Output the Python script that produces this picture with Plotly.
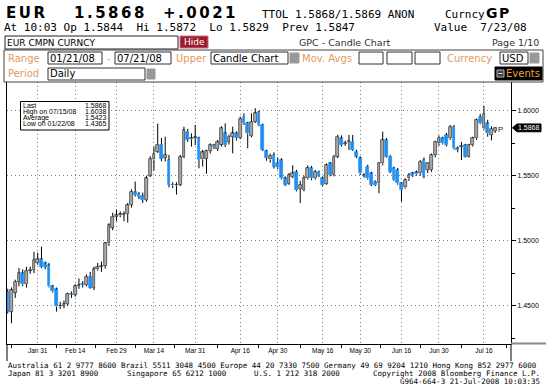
import plotly.graph_objects as go

# ---------------- data ----------------
opens = [1.4608,1.4455,1.4600,1.4685,1.4750,1.4665,1.4770,1.4776,1.4828,1.4858,
         1.4826,1.4810,1.4648,1.4625,1.4494,1.4500,1.4513,1.4592,1.4585,1.4650,
         1.4668,1.4660,1.4723,1.4640,1.4780,1.4800,1.4806,1.4980,1.5100,1.5185,
         1.5195,1.5200,1.5205,1.5275,1.5377,1.5360,1.5345,1.5313,1.5500,1.5625,
         1.5685,1.5740,1.5640,1.5620,1.5432,1.5425,1.5430,1.5645,1.5840,1.5780,
         1.5790,1.5790,1.5625,1.5630,1.5690,1.5735,1.5705,1.5740,1.5826,1.5762,
         1.5800,1.5826,1.5790,1.5955,1.5905,1.5805,1.5916,1.5990,1.5890,1.5690,
         1.5625,1.5660,1.5600,1.5620,1.5480,1.5440,1.5490,1.5530,1.5400,1.5390,
         1.5480,1.5560,1.5480,1.5530,1.5480,1.5440,1.5595,1.5506,1.5647,1.5788,
         1.5745,1.5760,1.5762,1.5685,1.5634,1.5500,1.5570,1.5518,1.5454,1.5442,
         1.5595,1.5775,1.5647,1.5557,1.5544,1.5442,1.5410,1.5480,1.5518,1.5525,
         1.5518,1.5621,1.5544,1.5544,1.5659,1.5749,1.5788,1.5813,1.5788,1.5877,
         1.5711,1.5720,1.5736,1.5647,1.5736,1.5788,1.5954,1.5865,1.5903,1.5815,
         1.5844]
highs = [1.4630,1.4640,1.4700,1.4790,1.4780,1.4800,1.4800,1.4915,1.4908,1.4955,
         1.4840,1.4830,1.4660,1.4640,1.4530,1.4540,1.4600,1.4610,1.4665,1.4710,
         1.4690,1.4740,1.4760,1.4800,1.4830,1.4840,1.4990,1.5135,1.5215,1.5240,
         1.5225,1.5225,1.5290,1.5395,1.5455,1.5375,1.5370,1.5500,1.5650,1.5723,
         1.5900,1.5790,1.5800,1.5660,1.5450,1.5450,1.5660,1.5877,1.5860,1.5826,
         1.5890,1.5800,1.5700,1.5700,1.5750,1.5745,1.5775,1.5880,1.5903,1.5815,
         1.5877,1.5840,1.5955,1.5980,1.5915,1.5980,1.6019,1.6000,1.5900,1.5700,
         1.5670,1.5680,1.5640,1.5635,1.5495,1.5520,1.5580,1.5545,1.5460,1.5500,
         1.5580,1.5575,1.5545,1.5540,1.5495,1.5595,1.5605,1.5660,1.5815,1.5810,
         1.5770,1.5813,1.5813,1.5700,1.5650,1.5520,1.5585,1.5530,1.5465,1.5600,
         1.5839,1.5790,1.5660,1.5570,1.5560,1.5450,1.5480,1.5520,1.5530,1.5540,
         1.5620,1.5640,1.5600,1.5670,1.5770,1.5810,1.5800,1.5830,1.5890,1.5890,
         1.5725,1.5760,1.5745,1.5745,1.5800,1.5940,1.5975,1.6038,1.5930,1.5880,
         1.5872]
lows = [1.4440,1.4365,1.4560,1.4650,1.4650,1.4640,1.4745,1.4750,1.4815,1.4790,
        1.4780,1.4640,1.4600,1.4455,1.4475,1.4480,1.4500,1.4560,1.4570,1.4630,
        1.4640,1.4650,1.4630,1.4620,1.4770,1.4760,1.4785,1.4960,1.5080,1.5150,
        1.5180,1.5150,1.5140,1.5255,1.5340,1.5320,1.5290,1.5300,1.5490,1.5540,
        1.5675,1.5610,1.5610,1.5410,1.5405,1.5355,1.5420,1.5635,1.5760,1.5724,
        1.5736,1.5557,1.5570,1.5515,1.5670,1.5705,1.5690,1.5725,1.5720,1.5740,
        1.5672,1.5770,1.5780,1.5890,1.5711,1.5795,1.5905,1.5880,1.5690,1.5615,
        1.5600,1.5555,1.5550,1.5470,1.5420,1.5430,1.5480,1.5380,1.5290,1.5380,
        1.5470,1.5465,1.5470,1.5490,1.5420,1.5430,1.5495,1.5495,1.5635,1.5725,
        1.5730,1.5698,1.5690,1.5635,1.5505,1.5485,1.5470,1.5420,1.5420,1.5365,
        1.5580,1.5640,1.5520,1.5460,1.5430,1.5300,1.5400,1.5460,1.5490,1.5500,
        1.5500,1.5480,1.5520,1.5530,1.5640,1.5730,1.5740,1.5725,1.5775,1.5700,
        1.5680,1.5620,1.5640,1.5640,1.5725,1.5775,1.5895,1.5855,1.5800,1.5772,
        1.5829]
closes = [1.4455,1.4620,1.4685,1.4750,1.4665,1.4770,1.4776,1.4855,1.4858,1.4800,
          1.4800,1.4648,1.4610,1.4494,1.4500,1.4512,1.4590,1.4585,1.4650,1.4656,
          1.4660,1.4723,1.4640,1.4780,1.4800,1.4806,1.4980,1.5120,1.5185,1.5195,
          1.5205,1.5206,1.5275,1.5377,1.5352,1.5340,1.5313,1.5480,1.5630,1.5670,
          1.5740,1.5630,1.5660,1.5430,1.5425,1.5432,1.5645,1.5850,1.5775,1.5790,
          1.5796,1.5620,1.5680,1.5690,1.5735,1.5720,1.5760,1.5865,1.5736,1.5800,
          1.5826,1.5788,1.5940,1.5905,1.5826,1.5915,1.5980,1.5890,1.5700,1.5635,
          1.5655,1.5570,1.5565,1.5480,1.5430,1.5505,1.5520,1.5390,1.5430,1.5480,
          1.5560,1.5480,1.5530,1.5500,1.5430,1.5583,1.5506,1.5647,1.5801,1.5736,
          1.5752,1.5765,1.5698,1.5647,1.5518,1.5508,1.5480,1.5429,1.5429,1.5595,
          1.5775,1.5647,1.5531,1.5467,1.5442,1.5390,1.5467,1.5506,1.5506,1.5510,
          1.5608,1.5493,1.5595,1.5659,1.5762,1.5793,1.5749,1.5736,1.5877,1.5711,
          1.5698,1.5726,1.5647,1.5736,1.5788,1.5929,1.5903,1.5977,1.5826,1.5862,
          1.5868]
day_index = list(range(len(closes)))

tick_index = [8, 18, 29, 39, 50, 62, 72, 84, 94, 105, 115, 127]
tick_labels = ["Jan 31", "Feb 14", "Feb 29", "Mar 14", "Mar 31", "Apr 16",
               "Apr 30", "May 16", "May 30", "Jun 16", "Jun 30", "Jul 16"]
price_ticks = [1.45, 1.50, 1.55, 1.60]
price_minor = [1.425, 1.475, 1.525, 1.575]

last_price = 1.5868
stat_labels = ["Last", "High on 07/15/08", "Average", "Low on 01/22/08"]
stat_values = ["1.5868", "1.6038", "1.5423", "1.4365"]

# ---------------- geometry helpers ----------------
W, H = 546, 392
ML, MR, MT, MB = 7, 35, 82, 48
PW, PH = W - ML - MR, H - MT - MB


def X(px):
    return (px - ML) / PW


def Y(py):
    return (H - MB - py) / PH


BLUE = "#1e8ef2"
GRAY = "#a8a8a8"
ORANGE = "#e3995a"
MONO = "DejaVu Sans Mono"
SANS = "DejaVu Sans"
ARIAL = "Liberation Sans"

# ---------------- traces ----------------
wx, wy = [], []
for i, o, h, l, c in zip(day_index, opens, highs, lows, closes):
    top, bot = max(o, c), min(o, c)
    wx += [i, i, None, i, i, None]
    wy += [h, top, None, bot, l, None]

bases = [min(o, c) for o, c in zip(opens, closes)]
heights = [abs(c - o) for o, c in zip(opens, closes)]
fills = [GRAY if c >= o else BLUE for o, c in zip(opens, closes)]
edges = ["#303030" if c >= o else BLUE for o, c in zip(opens, closes)]

fig = go.Figure()
fig.add_trace(go.Scatter(x=wx, y=wy, mode="lines", line=dict(color="black", width=1),
                         hoverinfo="skip", showlegend=False))
fig.add_trace(go.Bar(x=day_index, y=heights, base=bases, width=0.72,
                     marker=dict(color=fills, line=dict(color=edges, width=0.7)),
                     hoverinfo="skip", showlegend=False))

shapes = []
ann = []


def rect(x0, y0, x1, y1, fill="white", line="#303030", lw=1):
    shapes.append(dict(type="rect", xref="paper", yref="paper", x0=X(x0), x1=X(x1),
                       y0=Y(y1), y1=Y(y0), fillcolor=fill,
                       line=dict(color=line, width=lw), layer="above"))


def hline(x0, x1, y, color="black", lw=1):
    shapes.append(dict(type="line", xref="paper", yref="paper", x0=X(x0), x1=X(x1),
                       y0=Y(y), y1=Y(y), line=dict(color=color, width=lw), layer="above"))


def vline(x, y0, y1, color="black", lw=1):
    shapes.append(dict(type="line", xref="paper", yref="paper", x0=X(x), x1=X(x),
                       y0=Y(y0), y1=Y(y1), line=dict(color=color, width=lw), layer="above"))


def txt(px, py, s, size, color="black", family=SANS, anchor="left", weight="normal"):
    ann.append(dict(x=X(px), y=Y(py), xref="paper", yref="paper", text=s, showarrow=False,
                    xanchor=anchor, yanchor="middle", borderpad=0, borderwidth=0,
                    font=dict(size=size, color=color, family=family, weight=weight)))


def spaced(s, sp):
    return '<span style="letter-spacing:%spx">%s</span>' % (sp, s)


# ---------------- header ----------------
txt(26, 13, spaced("EUR", 2.5), 15, family=SANS, anchor="center", weight="bold")
txt(110, 13, spaced("1.5868", 2.5), 15, family=SANS, anchor="center", weight="bold")
txt(200, 13, spaced("+.0021", 2.5), 15, family=SANS, anchor="center", weight="bold")
txt(262, 14, "TTOL 1.5868/1.5869 ANON", 11, family=MONO)
txt(445, 14, "Curncy", 11, family=MONO)
txt(498, 13, spaced("GP", 1.5), 14, family=SANS, anchor="center", weight="bold")

txt(4, 27, "At 10:03 Op 1.5844\u00a0\u00a0Hi 1.5872\u00a0\u00a0Lo 1.5829\u00a0\u00a0Prev 1.5847",
    11, family=MONO)
txt(434, 27, "Value\u00a0\u00a07/23/08", 11, family=MONO)

# row 3
rect(5, 36, 178, 49, fill="white", line="#202020")
txt(7, 42.5, "EUR CMPN CURNCY", 9, family=SANS)
rect(180, 36, 208, 48, fill="#9e1a2c", line="#c87080")
txt(194, 42, "Hide", 9, color="white", family=SANS, anchor="center")
txt(345, 42.5, "GPC - Candle Chart", 9.5, color="#303030", family=SANS, anchor="center")
txt(539, 42.5, "Page 1/10", 9.5, color="#303030", family=SANS, anchor="right")

# controls panel
rect(4, 50, 543, 82, fill="white", line="#404040")
# row 4
txt(8, 58, "Range", 10, color=ORANGE)
rect(48, 52, 102, 64)
txt(50, 58, "01/21/08", 10)
txt(107, 58, "-", 10, color=ORANGE)
rect(115, 52, 171, 64)
txt(117, 58, "07/21/08", 10)
txt(176, 58, "Upper", 10, color=ORANGE)
rect(211, 52, 288, 64)
txt(213, 58, "Candle Chart", 10)
rect(290, 53, 299, 63, fill="#999999", line="#999999")
txt(302, 58, "Mov. Avgs", 10, color=ORANGE)
rect(359, 52, 383, 64)
rect(387, 52, 412, 64)
rect(415, 52, 440, 64)
txt(447, 58, "Currency", 10, color=ORANGE)
rect(500, 52, 528, 64)
txt(502, 58, "USD", 10)
rect(530, 53, 539, 63, fill="#999999", line="#999999")
# row 5
txt(8, 74, "Period", 10, color=ORANGE)
rect(48, 68, 145, 80)
txt(50, 74, "Daily", 10)
rect(147, 69, 155, 79, fill="#999999", line="#999999")
rect(495, 67, 542, 80, fill="black", line="black")
rect(497, 70, 504, 77, fill="#404040", line="#bbbbbb")
hline(498.5, 502.5, 73.5, color="#dddddd", lw=1)
txt(506, 73.5, "Events", 10, color="#f0a030")

# ---------------- chart decorations ----------------
# statistics box
rect(20.5, 101.5, 109, 130, fill="white", line="black")
for k, (lab, val) in enumerate(zip(stat_labels, stat_values)):
    yy = 105.5 + k * 6.0
    txt(22.5, yy, lab, 7, family=ARIAL)
    txt(106.5, yy, val, 7, family=ARIAL, anchor="right")

# frame extensions below the date axis and the right panel base line
vline(ML, 344, 361)
vline(ML + PW, 344, 361)
hline(ML + PW, W, 343.5, color="#8a8a8a", lw=2)

# last price tag
tag_h = 0.0030
shapes.append(dict(type="path", xref="paper", yref="y",
                   path="M %f,%f L %f,%f L %f,%f L %f,%f L %f,%f Z" % (
                       X(512.5), last_price,
                       X(517), last_price + tag_h,
                       X(541), last_price + tag_h,
                       X(541), last_price - tag_h,
                       X(517), last_price - tag_h),
                   fillcolor="black", line=dict(color="black", width=1), layer="above"))
ann.append(dict(x=X(529), y=last_price, xref="paper", yref="y", text="%.4f" % last_price,
                showarrow=False, xanchor="center", yanchor="middle", borderpad=0,
                font=dict(size=7, color="white", family=ARIAL)))
ann.append(dict(x=day_index[-1] + 1.4, y=(opens[-1] + closes[-1]) / 2, xref="x", yref="y",
                text="P", showarrow=False, xanchor="center", yanchor="middle",
                font=dict(size=7.5, color="#202020", family=ARIAL)))

# ---------------- footer ----------------
txt(8, 365, "Australia 61 2 9777 8600 Brazil 5511 3048 4500 Europe 44 20 7330 7500 "
    "Germany 49 69 9204 1210 Hong Kong 852 2977 6000", 7.5, family=MONO)
txt(8, 373, "Japan 81 3 3201 8900", 7.5, family=MONO)
txt(127, 373, "Singapore 65 6212 1000", 7.5, family=MONO)
txt(254, 373, "U.S. 1 212 318 2000", 7.5, family=MONO)
txt(540, 373, "Copyright 2008 Bloomberg Finance L.P.", 7.5, family=MONO, anchor="right")
txt(540, 381, "G964-664-3 21-Jul-2008 10:03:35", 7.5, family=MONO, anchor="right")

# minor x ticks between labelled dates
x_minor = [tick_index[0] - 7] + [(a + b) / 2 for a, b in zip(tick_index[:-1], tick_index[1:])] + [tick_index[-1] + 6]

fig.update_layout(
    width=W, height=H,
    margin=dict(l=ML, r=MR, t=MT, b=MB),
    paper_bgcolor="white", plot_bgcolor="white",
    showlegend=False, hovermode=False, bargap=0,
    xaxis=dict(range=[-0.19, 134.21], tickmode="array", tickvals=tick_index,
               ticktext=tick_labels, ticks="", showgrid=True, gridcolor="#808080",
               gridwidth=1, griddash="1px,3px", zeroline=False, showline=True,
               mirror=True, linecolor="black", linewidth=1,
               tickfont=dict(family=ARIAL, size=6.5, color="black"),
               minor=dict(tickmode="array", tickvals=x_minor, ticks="outside",
                          ticklen=3, tickcolor="black", showgrid=False),
               fixedrange=True),
    yaxis=dict(range=[1.42054, 1.62208], side="right", tickmode="array",
               tickvals=price_ticks, tickformat=".4f", ticks="outside", ticklen=4,
               tickcolor="black", showgrid=True, gridcolor="#808080", gridwidth=1,
               griddash="1px,3px", zeroline=False, showline=True, mirror=True,
               linecolor="black", linewidth=1,
               tickfont=dict(family=ARIAL, size=7, color="black"),
               minor=dict(tickmode="array", tickvals=price_minor, ticks="outside",
                          ticklen=3, tickcolor="black", showgrid=False),
               fixedrange=True),
    shapes=shapes,
    annotations=ann,
)

fig.write_html("out.html", config={"displayModeBar": False},
               post_script="document.body.style.margin='0px';document.body.style.padding='0px';")
